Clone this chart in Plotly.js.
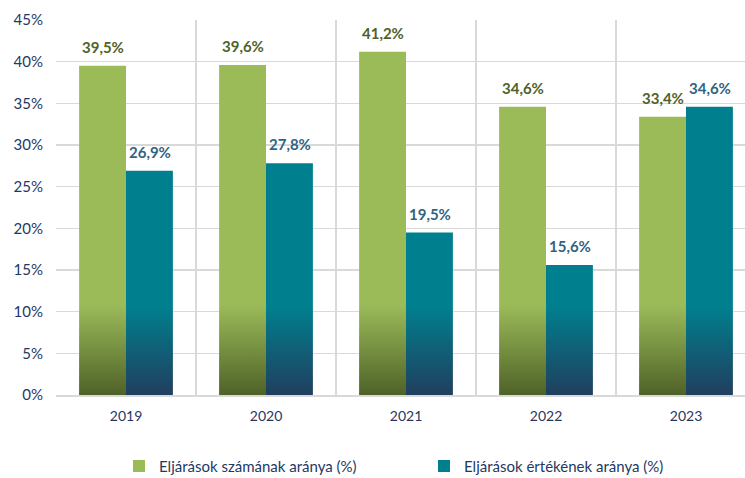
<!DOCTYPE html>
<html>
<head>
<meta charset="utf-8">
<script src="https://cdn.plot.ly/plotly-3.0.1.min.js"></script>
<style>
html,body{margin:0;padding:0;background:#fff;overflow:hidden;width:745px;height:478px;}
#chart{width:757px;height:478px;}
</style>
</head>
<body>
<div id="chart"></div>
<script>
const years = ['2019', '2020', '2021', '2022', '2023'];
const szamArany = [39.5, 39.6, 41.2, 34.6, 33.4];
const ertekArany = [26.9, 27.8, 19.5, 15.6, 34.6];
const seriesNames = ['Eljárások számának aránya (%)', 'Eljárások értékének aránya (%)'];
const yTicks = [0, 5, 10, 15, 20, 25, 30, 35, 40, 45];

const GREEN = '#9BBB59';
const TEAL = '#00808F';
const DARKBLUE = '#1F3864';
const FONT = 'Lato, "Open Sans", sans-serif';

function fmt(v) { return v.toFixed(1).replace('.', ',') + '%'; }

const traces = [
  { type: 'bar', x: years, y: szamArany, name: seriesNames[0],
    marker: { color: GREEN, line: { width: 0 } }, hoverinfo: 'skip' },
  { type: 'bar', x: years, y: ertekArany, name: seriesNames[1],
    marker: { color: TEAL, line: { width: 0 } }, hoverinfo: 'skip' }
];

const annotations = [];
years.forEach((yr, i) => {
  annotations.push({ x: i, y: szamArany[i], xref: 'x', yref: 'y', text: '<b>' + fmt(szamArany[i]) + '</b>',
    showarrow: false, xshift: -23.5, yshift: 8, yanchor: 'bottom',
    font: { family: FONT, size: 15, color: '#4F6228' } });
  annotations.push({ x: i, y: ertekArany[i], xref: 'x', yref: 'y', text: '<b>' + fmt(ertekArany[i]) + '</b>',
    showarrow: false, xshift: 23.5, yshift: 8, yanchor: 'bottom',
    font: { family: FONT, size: 15, color: '#2F6484' } });
});

const layout = {
  width: 757, height: 478,
  margin: { l: 56, r: 1, t: 20, b: 83, autoexpand: false },
  paper_bgcolor: '#ffffff', plot_bgcolor: '#ffffff',
  barmode: 'group', bargap: 0.33, bargroupgap: 0,
  font: { family: FONT, size: 14, color: DARKBLUE },
  showlegend: true,
  legend: { orientation: 'h', x: 0.09, xanchor: 'left', y: -0.19, yanchor: 'middle',
    entrywidth: 260, entrywidthmode: 'pixels',
    font: { family: FONT, size: 15, color: DARKBLUE } },
  xaxis: { type: 'category', range: [-0.5, 4.5], tickson: 'boundaries', showgrid: true, gridcolor: '#D9D9D9', gridwidth: 1.5,
    ticks: '', showline: true, linecolor: '#D9D9D9', linewidth: 1.5, ticklabelstandoff: 8,
    tickfont: { family: FONT, size: 14, color: DARKBLUE }, fixedrange: true },
  yaxis: { range: [0, 45], tickvals: yTicks, ticktext: yTicks.map(v => v + '%'),
    showgrid: true, gridcolor: '#D9D9D9', gridwidth: 1.5, zeroline: false, showline: false,
    ticks: '', ticklabelstandoff: 12,
    tickfont: { family: FONT, size: 15, color: DARKBLUE }, fixedrange: true },
  annotations: annotations
};

function addGradient(defs, id, top, bottom) {
  const NS = 'http://www.w3.org/2000/svg';
  const g = document.createElementNS(NS, 'linearGradient');
  g.setAttribute('id', id);
  g.setAttribute('gradientUnits', 'userSpaceOnUse');
  g.setAttribute('x1', '0'); g.setAttribute('x2', '0');
  g.setAttribute('y1', '0'); g.setAttribute('y2', '375');
  [[0, top], [0.76, top], [1, bottom]].forEach(([o, c]) => {
    const s = document.createElementNS(NS, 'stop');
    s.setAttribute('offset', o);
    s.setAttribute('stop-color', c);
    g.appendChild(s);
  });
  defs.appendChild(g);
}

Plotly.newPlot('chart', traces, layout, { displayModeBar: false, staticPlot: true }).then(gd => {
  const defs = gd.querySelector('.main-svg defs');
  addGradient(defs, 'gradGreen', GREEN, '#4F6228');
  addGradient(defs, 'gradTeal', TEAL, '#203F5E');
  const tr = gd.querySelectorAll('.barlayer .trace');
  const ids = ['gradGreen', 'gradTeal'];
  tr.forEach((t, i) => {
    t.querySelectorAll('path').forEach(p => { p.style.fill = 'url(#' + ids[i] + ')'; });
  });
});
</script>
</body>
</html>
